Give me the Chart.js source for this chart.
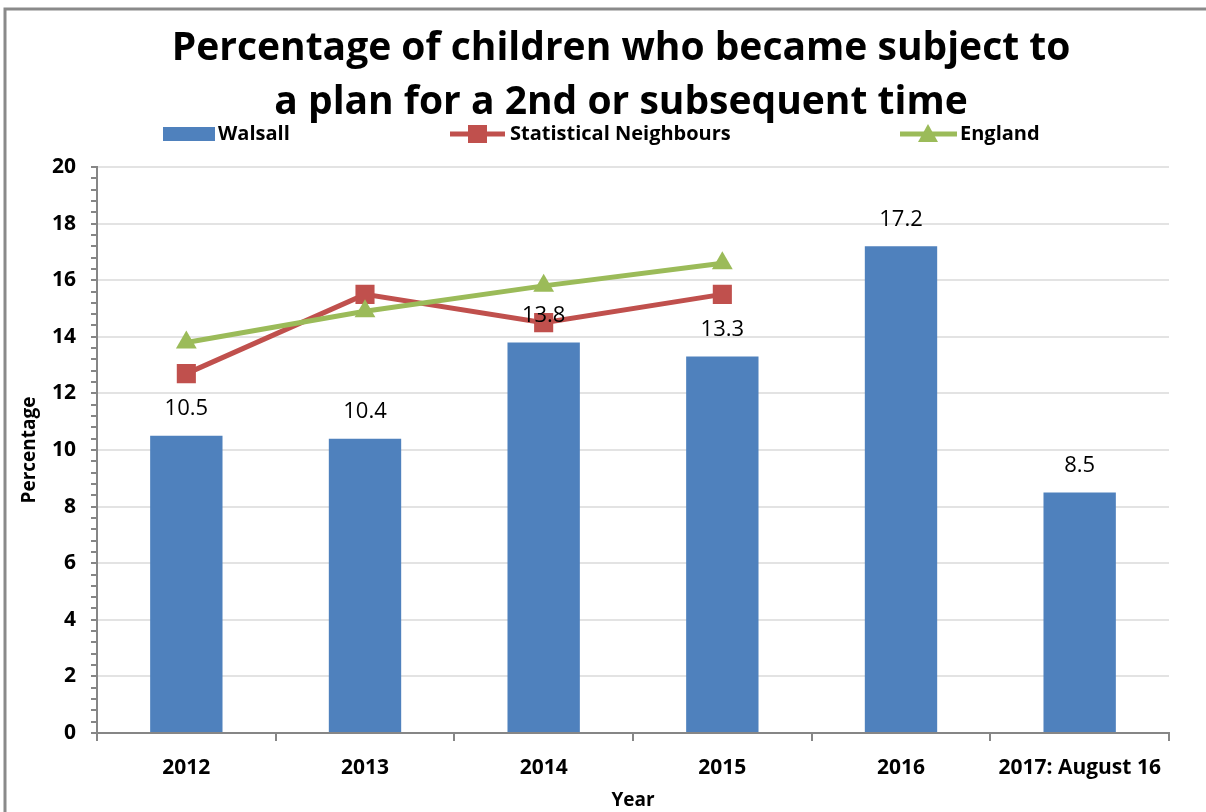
<!DOCTYPE html>
<html>
<head>
<meta charset="utf-8">
<script src="https://cdn.jsdelivr.net/npm/chart.js@4.4.1/dist/chart.umd.min.js"></script>
<style>
html,body{margin:0;padding:0;background:#fff;}
#wrap{position:absolute;left:0;top:0;width:1206px;height:812px;}
</style>
</head>
<body>
<div id="wrap"><canvas id="c" width="1206" height="812"></canvas></div>
<script>
const categories = ['2012', '2013', '2014', '2015', '2016', '2017: August 16'];
const walsall = [10.5, 10.4, 13.8, 13.3, 17.2, 8.5];
const statNeighbours = [12.7, 15.5, 14.5, 15.5, null, null];
const england = [13.8, 14.9, 15.8, 16.6, null, null];
const titleLines = ['Percentage of children who became subject to', 'a plan for a 2nd or subsequent time'];
const seriesNames = ['Walsall', 'Statistical Neighbours', 'England'];

const FONT = '"Open Sans", Lato, sans-serif';
const BLUE = '#4F81BD', RED = '#C0504D', GREEN = '#9BBB59', AXIS = '#868686';

const decor = {
  id: 'decor',
  afterDraw(chart) {
    const ctx = chart.ctx;
    ctx.save();
    // outer frame
    ctx.strokeStyle = '#8a8a8a';
    ctx.lineWidth = 3;
    ctx.beginPath();
    ctx.moveTo(5, 812);
    ctx.lineTo(5, 9);
    ctx.lineTo(1206, 9);
    ctx.stroke();
    // title
    ctx.fillStyle = '#000';
    ctx.textAlign = 'center';
    ctx.textBaseline = 'alphabetic';
    ctx.font = 'bold 39px ' + FONT;
    ctx.fillText(titleLines[0], 621, 60);
    ctx.fillText(titleLines[1], 621, 114);
    // legend
    ctx.textBaseline = 'middle';
    ctx.font = 'bold 20px ' + FONT;
    ctx.textAlign = 'left';
    const ly = 134;
    ctx.fillStyle = BLUE;
    ctx.fillRect(163, ly - 7, 52, 14);
    ctx.fillStyle = '#000';
    ctx.fillText(seriesNames[0], 218, ly);
    // stat neighbours
    ctx.strokeStyle = RED; ctx.lineWidth = 5;
    ctx.beginPath(); ctx.moveTo(450, ly); ctx.lineTo(505, ly); ctx.stroke();
    ctx.fillStyle = RED; ctx.fillRect(468, ly - 9, 19, 18);
    ctx.fillStyle = '#000';
    ctx.fillText(seriesNames[1], 510, ly);
    // england
    ctx.strokeStyle = GREEN;
    ctx.beginPath(); ctx.moveTo(900, ly); ctx.lineTo(957, ly); ctx.stroke();
    ctx.fillStyle = GREEN;
    ctx.beginPath(); ctx.moveTo(928, ly - 10); ctx.lineTo(938, ly + 8); ctx.lineTo(918, ly + 8); ctx.closePath(); ctx.fill();
    ctx.fillStyle = '#000';
    ctx.fillText(seriesNames[2], 960, ly);
    // data labels on bars
    const meta = chart.getDatasetMeta(2);
    ctx.font = '22px ' + FONT;
    ctx.textAlign = 'center';
    meta.data.forEach((bar, i) => {
      ctx.fillText(walsall[i].toFixed(1), bar.x, bar.y - 27);
    });
    ctx.restore();
  }
};

new Chart(document.getElementById('c'), {
  type: 'bar',
  data: {
    labels: categories,
    datasets: [
      { type: 'line', label: seriesNames[2], data: england, borderColor: GREEN, backgroundColor: GREEN,
        borderWidth: 5, pointStyle: 'triangle', pointRadius: 12, pointHoverRadius: 12, pointBorderWidth: 0, order: 0, spanGaps: false },
      { type: 'line', label: seriesNames[1], data: statNeighbours, borderColor: RED, backgroundColor: RED,
        borderWidth: 5, pointStyle: 'rect', pointRadius: 13.5, pointHoverRadius: 13.5, pointBorderWidth: 0, order: 1, spanGaps: false },
      { type: 'bar', label: seriesNames[0], data: walsall, backgroundColor: BLUE,
        barPercentage: 0.405, categoryPercentage: 1, order: 2 }
    ]
  },
  options: {
    responsive: false,
    animation: false,
    devicePixelRatio: 1,
    layout: { padding: { top: 167, left: 6, right: 37, bottom: 0 } },
    plugins: { legend: { display: false }, title: { display: false }, tooltip: { enabled: false } },
    scales: {
      x: {
        afterFit(s) { s.height = 79; },
        offset: true,
        grid: { offset: true, drawOnChartArea: false, color: AXIS, tickLength: 8, lineWidth: 2 },
        border: { color: AXIS, width: 2 },
        ticks: { color: '#000', font: { family: FONT, size: 21, weight: 'bold' }, padding: 14, maxRotation: 0, autoSkip: false },
        title: { display: true, text: 'Year', color: '#000', font: { family: FONT, size: 19, weight: 'bold' }, padding: { top: 0, bottom: 0 } }
      },
      y: {
        afterFit(s) { s.width = 91; },
        min: 0, max: 20,
        ticks: {
          stepSize: 0.4,
          autoSkip: false,
          color: '#000',
          font: { family: FONT, size: 21, weight: 'bold' },
          padding: 15,
          callback(v) { const r = Math.round(v); return (Math.abs(v - r) < 1e-6 && r % 2 === 0) ? String(r) : ''; }
        },
        grid: {
          color(c) { const v = c.tick ? c.tick.value : 0; const r = Math.round(v); return (Math.abs(v - r) < 1e-6 && r % 2 === 0) ? '#e3e3e3' : 'rgba(0,0,0,0)'; },
          tickColor: AXIS,
          tickLength: 6,
          lineWidth: 2
        },
        border: { color: AXIS, width: 2 },
        title: { display: true, text: 'Percentage', color: '#000', font: { family: FONT, size: 19, weight: 'bold' }, padding: { top: 12, bottom: 0 } }
      }
    }
  },
  plugins: [decor]
});
</script>
</body>
</html>
